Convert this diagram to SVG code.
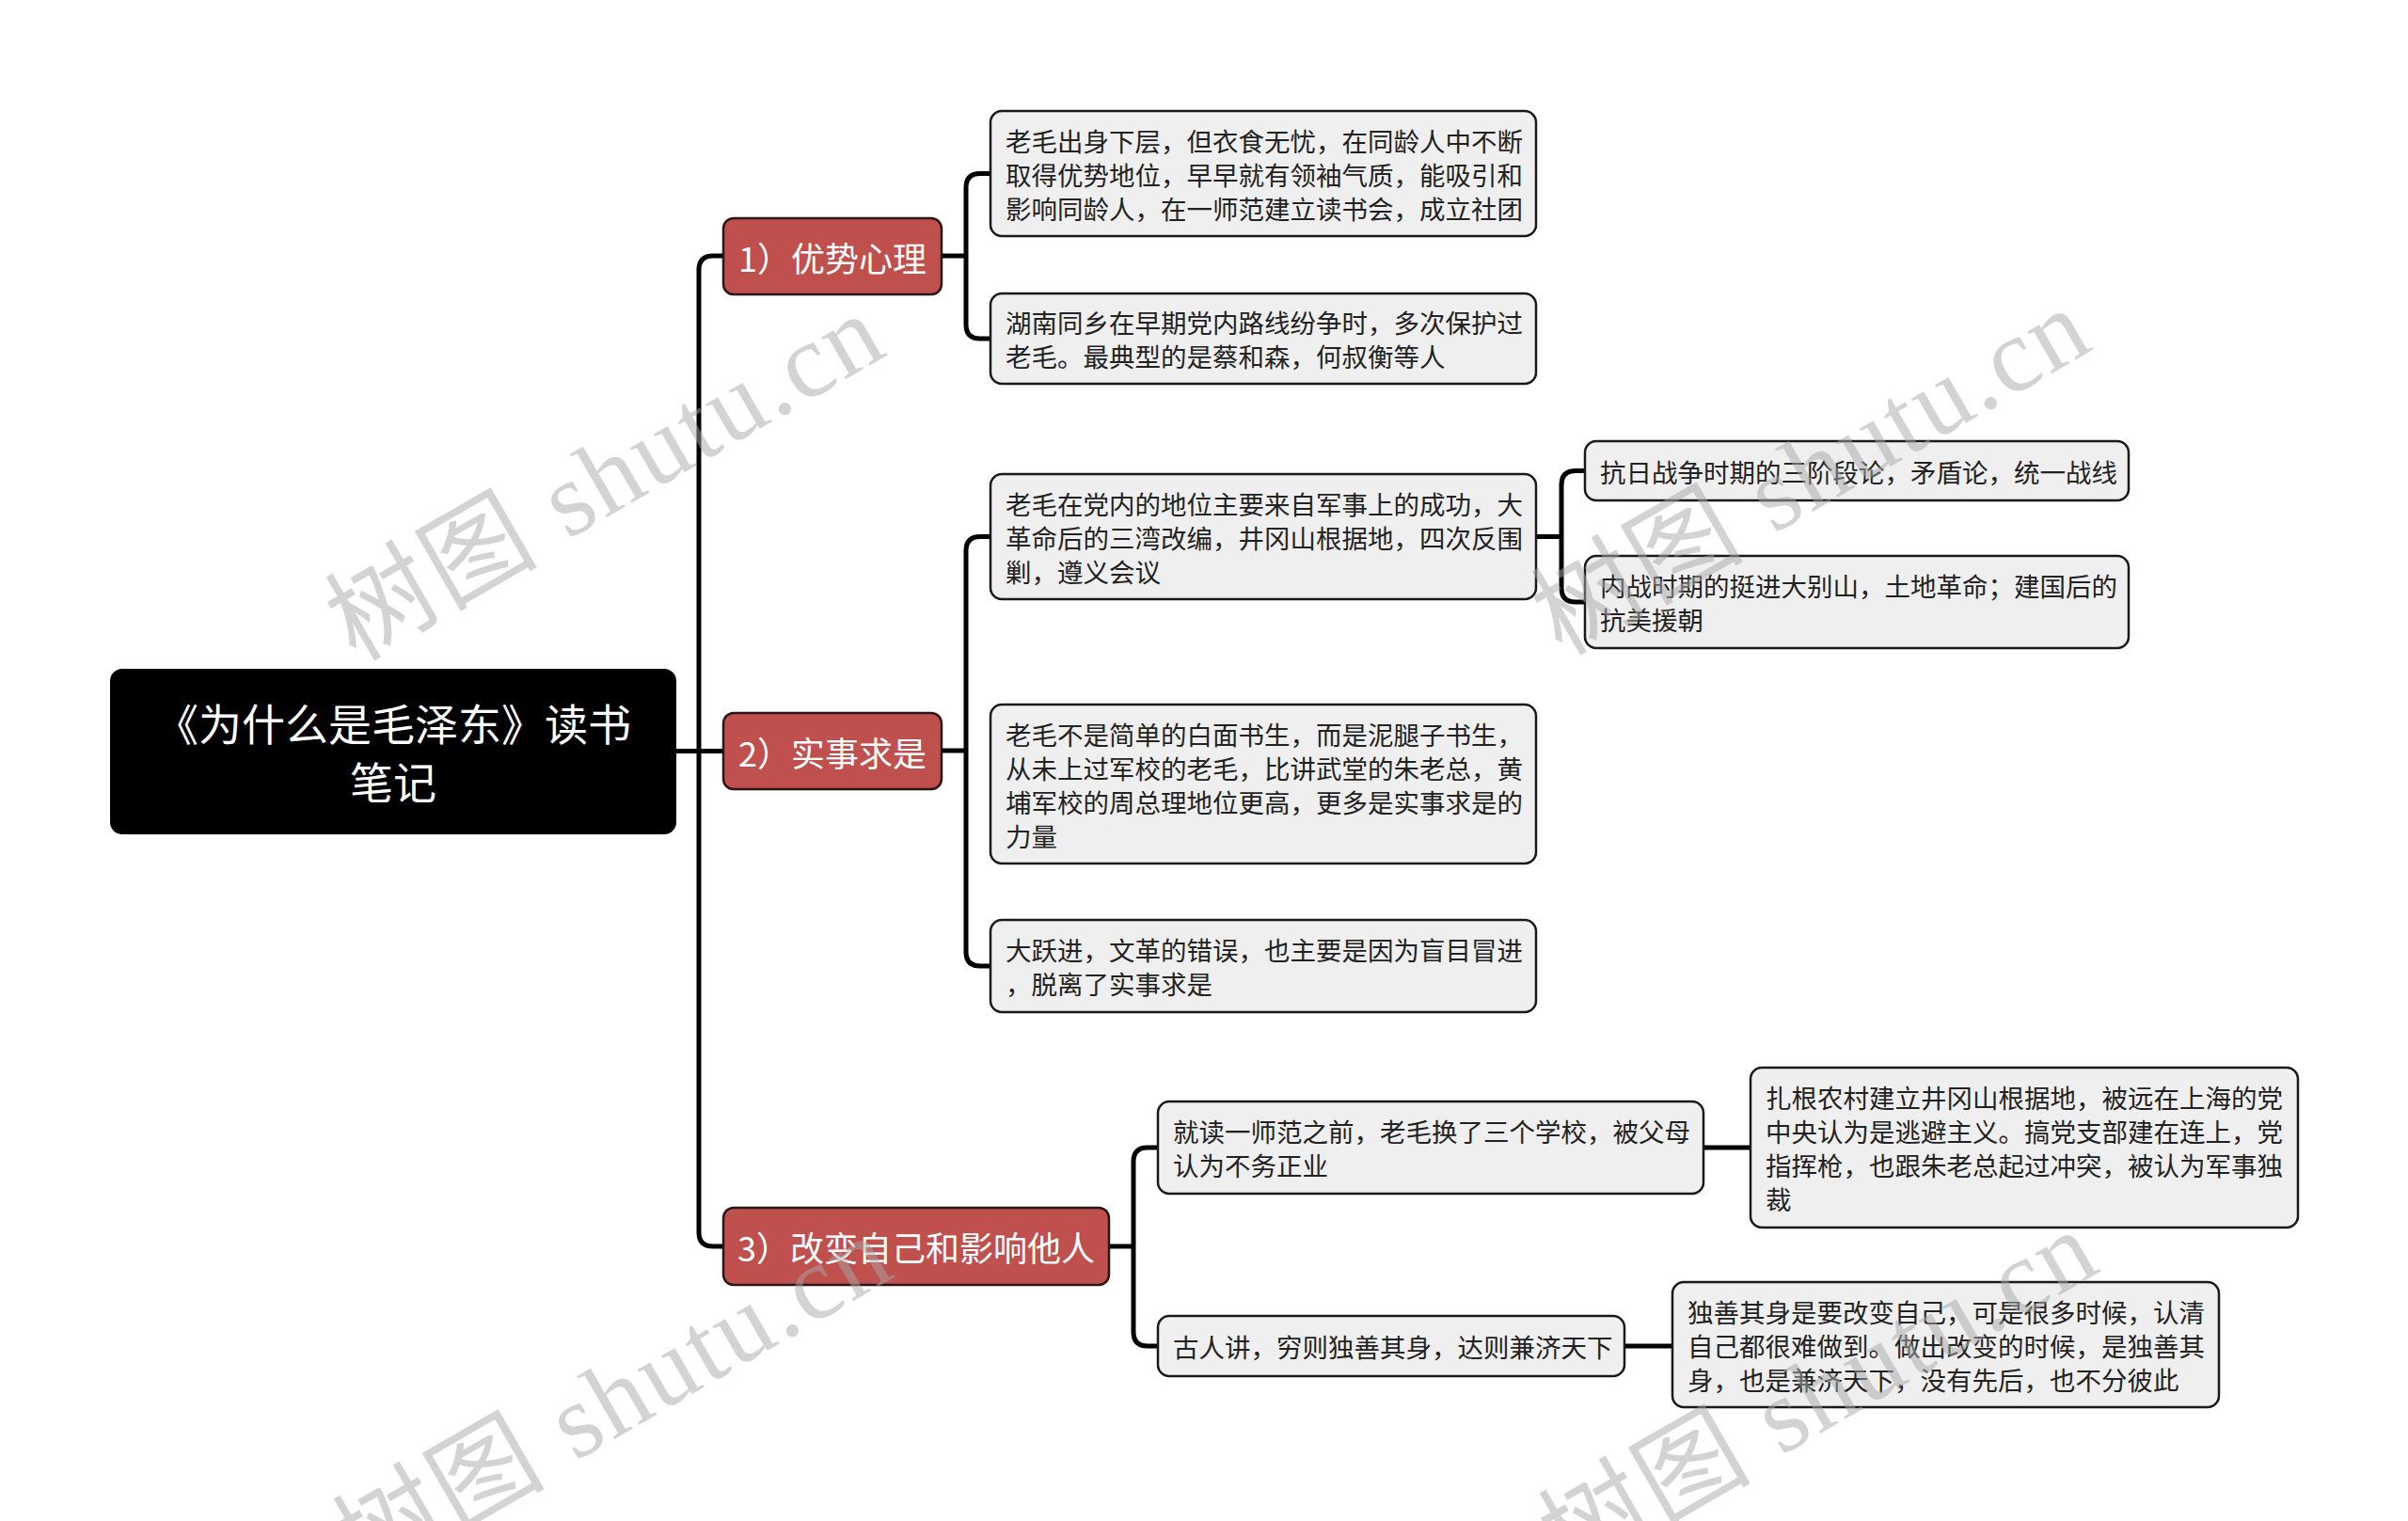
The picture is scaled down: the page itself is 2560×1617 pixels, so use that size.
<svg xmlns="http://www.w3.org/2000/svg" width="2560" height="1617" viewBox="0 0 2560 1617">
<style>
.root rect{fill:#000;stroke:#000;stroke-width:2}
.root text{fill:#fff;font-size:46px}
.l1 rect{fill:#C0504D;stroke:#2a1616;stroke-width:2.5}
.l1 text{fill:#fff;font-size:36px}
.l2 rect{fill:#EFEFEF;stroke:#1a1a1a;stroke-width:2.5}
.l2 text{fill:#222;font-size:27.5px}
text{font-family:"Noto Sans CJK SC","Noto Sans",sans-serif;dominant-baseline:central}
#connectors path{fill:none;stroke:#000;stroke-width:5;stroke-linecap:butt}
.wm{font-family:"Liberation Serif","Noto Sans CJK SC",serif;font-size:112px;fill:#a8a8a8;opacity:0.5;dominant-baseline:alphabetic}
</style>
<rect width="2560" height="1617" fill="#fff"/>
<g id="connectors">
<path d="M718 798.5 H769"/>
<path d="M769 272 H758 Q743 272 743 287 V1310 Q743 1325 758 1325 H769"/>
<path d="M1001 272 H1027"/>
<path d="M1053 184.5 H1042 Q1027 184.5 1027 199.5 V345 Q1027 360 1042 360 H1053"/>
<path d="M1001 798 H1027"/>
<path d="M1053 570.5 H1042 Q1027 570.5 1027 585.5 V1012 Q1027 1027 1042 1027 H1053"/>
<path d="M1633 570.5 H1660"/>
<path d="M1685 500.5 H1675 Q1660 500.5 1660 515.5 V625 Q1660 640 1675 640 H1685"/>
<path d="M1179 1325 H1205"/>
<path d="M1231 1220 H1220 Q1205 1220 1205 1235 V1416 Q1205 1431 1220 1431 H1231"/>
<path d="M1811 1220 H1861"/>
<path d="M1727 1431 H1778"/>
</g>
<g id="root" class="root">
<rect x="118" y="712" width="600" height="174" rx="12"/>
<text x="418" y="767" text-anchor="middle">《为什么是毛泽东》读书</text>
<text x="418" y="829" text-anchor="middle">笔记</text>
</g>
<g id="n1" class="l1">
<rect x="769" y="232" width="232" height="81" rx="11"/>
<text x="885" y="272.5" text-anchor="middle">1）优势心理</text>
</g>
<g id="n2" class="l1">
<rect x="769" y="758" width="232" height="81" rx="11"/>
<text x="885" y="798.5" text-anchor="middle">2）实事求是</text>
</g>
<g id="n3" class="l1">
<rect x="769" y="1284" width="410" height="82" rx="11"/>
<text x="974" y="1325" text-anchor="middle">3）改变自己和影响他人</text>
</g>
<g id="a" class="l2">
<rect x="1053" y="118" width="580" height="133" rx="12"/>
<text x="1069" y="148.5">老毛出身下层，但衣食无忧，在同龄人中不断</text>
<text x="1069" y="184.5">取得优势地位，早早就有领袖气质，能吸引和</text>
<text x="1069" y="220.5">影响同龄人，在一师范建立读书会，成立社团</text>
</g>
<g id="b" class="l2">
<rect x="1053" y="312" width="580" height="96" rx="12"/>
<text x="1069" y="342">湖南同乡在早期党内路线纷争时，多次保护过</text>
<text x="1069" y="378">老毛。最典型的是蔡和森，何叔衡等人</text>
</g>
<g id="c" class="l2">
<rect x="1053" y="504" width="580" height="133" rx="12"/>
<text x="1069" y="534.5">老毛在党内的地位主要来自军事上的成功，大</text>
<text x="1069" y="570.5">革命后的三湾改编，井冈山根据地，四次反围</text>
<text x="1069" y="606.5">剿，遵义会议</text>
</g>
<g id="d" class="l2">
<rect x="1053" y="749" width="580" height="169" rx="12"/>
<text x="1069" y="779.5">老毛不是简单的白面书生，而是泥腿子书生，</text>
<text x="1069" y="815.5">从未上过军校的老毛，比讲武堂的朱老总，黄</text>
<text x="1069" y="851.5">埔军校的周总理地位更高，更多是实事求是的</text>
<text x="1069" y="887.5">力量</text>
</g>
<g id="e" class="l2">
<rect x="1053" y="978" width="580" height="98" rx="12"/>
<text x="1069" y="1009">大跃进，文革的错误，也主要是因为盲目冒进</text>
<text x="1069" y="1045">，脱离了实事求是</text>
</g>
<g id="f" class="l2">
<rect x="1685" y="469" width="578" height="63" rx="12"/>
<text x="1701" y="500.5">抗日战争时期的三阶段论，矛盾论，统一战线</text>
</g>
<g id="g" class="l2">
<rect x="1685" y="591" width="578" height="98" rx="12"/>
<text x="1701" y="622">内战时期的挺进大别山，土地革命；建国后的</text>
<text x="1701" y="658">抗美援朝</text>
</g>
<g id="h" class="l2">
<rect x="1231" y="1171" width="580" height="98" rx="12"/>
<text x="1247" y="1202">就读一师范之前，老毛换了三个学校，被父母</text>
<text x="1247" y="1238">认为不务正业</text>
</g>
<g id="i" class="l2">
<rect x="1231" y="1399" width="496" height="64" rx="12"/>
<text x="1247" y="1431">古人讲，穷则独善其身，达则兼济天下</text>
</g>
<g id="j" class="l2">
<rect x="1861" y="1135" width="582" height="170" rx="12"/>
<text x="1877" y="1166">扎根农村建立井冈山根据地，被远在上海的党</text>
<text x="1877" y="1202">中央认为是逃避主义。搞党支部建在连上，党</text>
<text x="1877" y="1238">指挥枪，也跟朱老总起过冲突，被认为军事独</text>
<text x="1877" y="1274">裁</text>
</g>
<g id="k" class="l2">
<rect x="1778" y="1363" width="581" height="133" rx="12"/>
<text x="1794" y="1393.5">独善其身是要改变自己，可是很多时候，认清</text>
<text x="1794" y="1429.5">自己都很难做到。做出改变的时候，是独善其</text>
<text x="1794" y="1465.5">身，也是兼济天下，没有先后，也不分彼此</text>
</g>
<g id="watermarks">
<text class="wm" transform="translate(378 704) rotate(-30)" textLength="655" lengthAdjust="spacing">树图 shutu.cn</text>
<text class="wm" transform="translate(1660 698) rotate(-30)" textLength="655" lengthAdjust="spacing">树图 shutu.cn</text>
<text class="wm" transform="translate(386 1684) rotate(-30)" textLength="655" lengthAdjust="spacing">树图 shutu.cn</text>
<text class="wm" transform="translate(1668 1678) rotate(-30)" textLength="655" lengthAdjust="spacing">树图 shutu.cn</text>
</g>
</svg>
